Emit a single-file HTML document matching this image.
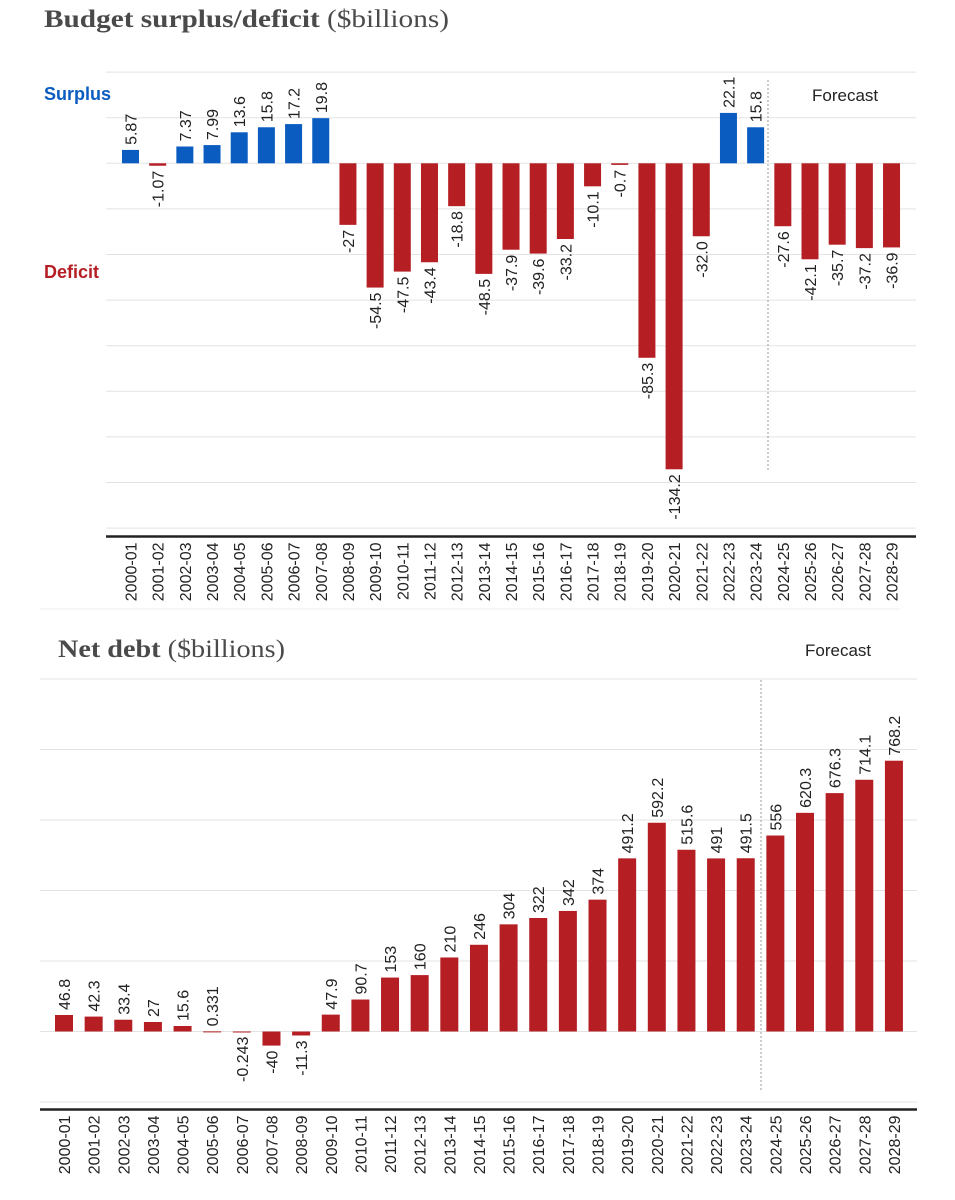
<!DOCTYPE html>
<html><head><meta charset="utf-8"><style>
html,body{margin:0;padding:0;background:#fff;}
svg{display:block;}
text{font-family:"Liberation Sans",Arial,sans-serif;}
.ttl{font-family:"Liberation Serif",Georgia,serif;font-size:25px;fill:#4a4a4a;}
</style></head><body>
<svg id="s" width="955" height="1200" viewBox="0 0 955 1200" xmlns="http://www.w3.org/2000/svg">
<text class="ttl" x="44" y="27" textLength="405" lengthAdjust="spacingAndGlyphs"><tspan font-weight="bold">Budget surplus/deficit</tspan> ($billions)</text>
<text class="ttl" x="58" y="657" textLength="227" lengthAdjust="spacingAndGlyphs"><tspan font-weight="bold">Net debt</tspan> ($billions)</text>
<text x="44" y="100" font-size="18" font-weight="bold" fill="#0a5cc0">Surplus</text>
<text x="44" y="278" font-size="18" font-weight="bold" fill="#b51f24">Deficit</text>
<text x="812" y="101" font-size="17" fill="#222">Forecast</text>
<text x="805" y="656" font-size="17" fill="#222">Forecast</text>
<line x1="40" y1="609" x2="900" y2="609" stroke="#eee"/>
<g id="g1"></g><g id="g2"></g>
</svg>
<script>
const years = ["2000-01","2001-02","2002-03","2003-04","2004-05","2005-06","2006-07","2007-08","2008-09","2009-10","2010-11","2011-12","2012-13","2013-14","2014-15","2015-16","2016-17","2017-18","2018-19","2019-20","2020-21","2021-22","2022-23","2023-24","2024-25","2025-26","2026-27","2027-28","2028-29"];
const budgetValues = [5.87,-1.07,7.37,7.99,13.6,15.8,17.2,19.8,-27,-54.5,-47.5,-43.4,-18.8,-48.5,-37.9,-39.6,-33.2,-10.1,-0.7,-85.3,-134.2,-32.0,22.1,15.8,-27.6,-42.1,-35.7,-37.2,-36.9];
const budgetLabels = ["5.87","-1.07","7.37","7.99","13.6","15.8","17.2","19.8","-27","-54.5","-47.5","-43.4","-18.8","-48.5","-37.9","-39.6","-33.2","-10.1","-0.7","-85.3","-134.2","-32.0","22.1","15.8","-27.6","-42.1","-35.7","-37.2","-36.9"];
const budgetGrid = [40,20,0,-20,-40,-60,-80,-100,-120,-140,-160];
const debtValues = [46.8,42.3,33.4,27,15.6,0.331,-0.243,-40,-11.3,47.9,90.7,153,160,210,246,304,322,342,374,491.2,592.2,515.6,491,491.5,556,620.3,676.3,714.1,768.2];
const debtLabels = ["46.8","42.3","33.4","27","15.6","0.331","-0.243","-40","-11.3","47.9","90.7","153","160","210","246","304","322","342","374","491.2","592.2","515.6","491","491.5","556","620.3","676.3","714.1","768.2"];
const debtGrid = [1000,800,600,400,200,0,-200];
const NS="http://www.w3.org/2000/svg";
function mk(p,t,a){const e=document.createElementNS(NS,t);for(const k in a)e.setAttribute(k,a[k]);p.appendChild(e);return e;}
function chart(g,cfg){
  const y=v=>cfg.zero-v*cfg.k, x=i=>cfg.x0+i*cfg.dx;
  cfg.grid.forEach(v=>{const yy=y(v);if(yy<cfg.top-1)return;
    const l=mk(g,'line',{x1:cfg.left,x2:cfg.right,y1:yy,y2:yy,stroke:'#e3e3e3','stroke-width':1});
    
    });
  const d=mk(g,'line',{x1:cfg.dash,x2:cfg.dash,y1:cfg.dashTop,y2:cfg.dashBot,stroke:'#999','stroke-dasharray':'2,2'});
  
  
  cfg.vals.forEach((v,i)=>{
    const cx=x(i),y0=y(0),y1=y(v);
    const r=mk(g,'rect',{x:cx-cfg.bw/2,y:Math.min(y0,y1),width:cfg.bw,height:Math.max(Math.abs(y1-y0),1),fill:(cfg.blue&&v>0)?'#0a5cc0':'#b51f24'});
    
    
    const pos=v>=0;
    const ly=pos?y1-5:y1+5;
    const t=mk(g,'text',{x:0,y:0,transform:`translate(${cx+6},${ly}) rotate(-90)`,'font-size':16,fill:'#222','text-anchor':pos?'start':'end'});
    t.textContent=cfg.labels[i];
    
    
    const tk=mk(g,'text',{x:0,y:0,transform:`translate(${cx+6},${cfg.axis+6}) rotate(-90)`,'font-size':16,fill:'#222','text-anchor':'end'});
    tk.textContent=years[i];
    
    
  });
  const a=mk(g,'line',{x1:cfg.left,x2:cfg.right,y1:cfg.axis,y2:cfg.axis,stroke:'#222','stroke-width':2.5});
  
  
}
chart(document.getElementById('g1'),{vals:budgetValues,labels:budgetLabels,grid:budgetGrid,zero:163.3,k:2.28,x0:130.5,dx:27.18,bw:17,left:106,right:916,top:70,axis:536.5,dash:768,dashTop:80,dashBot:470,blue:true});
chart(document.getElementById('g2'),{vals:debtValues,labels:debtLabels,grid:debtGrid,zero:1031.5,k:0.3525,x0:64,dx:29.64,bw:18,left:40,right:917,top:678,axis:1109.5,dash:761,dashTop:680,dashBot:1090,blue:false});
</script>
</body></html>
